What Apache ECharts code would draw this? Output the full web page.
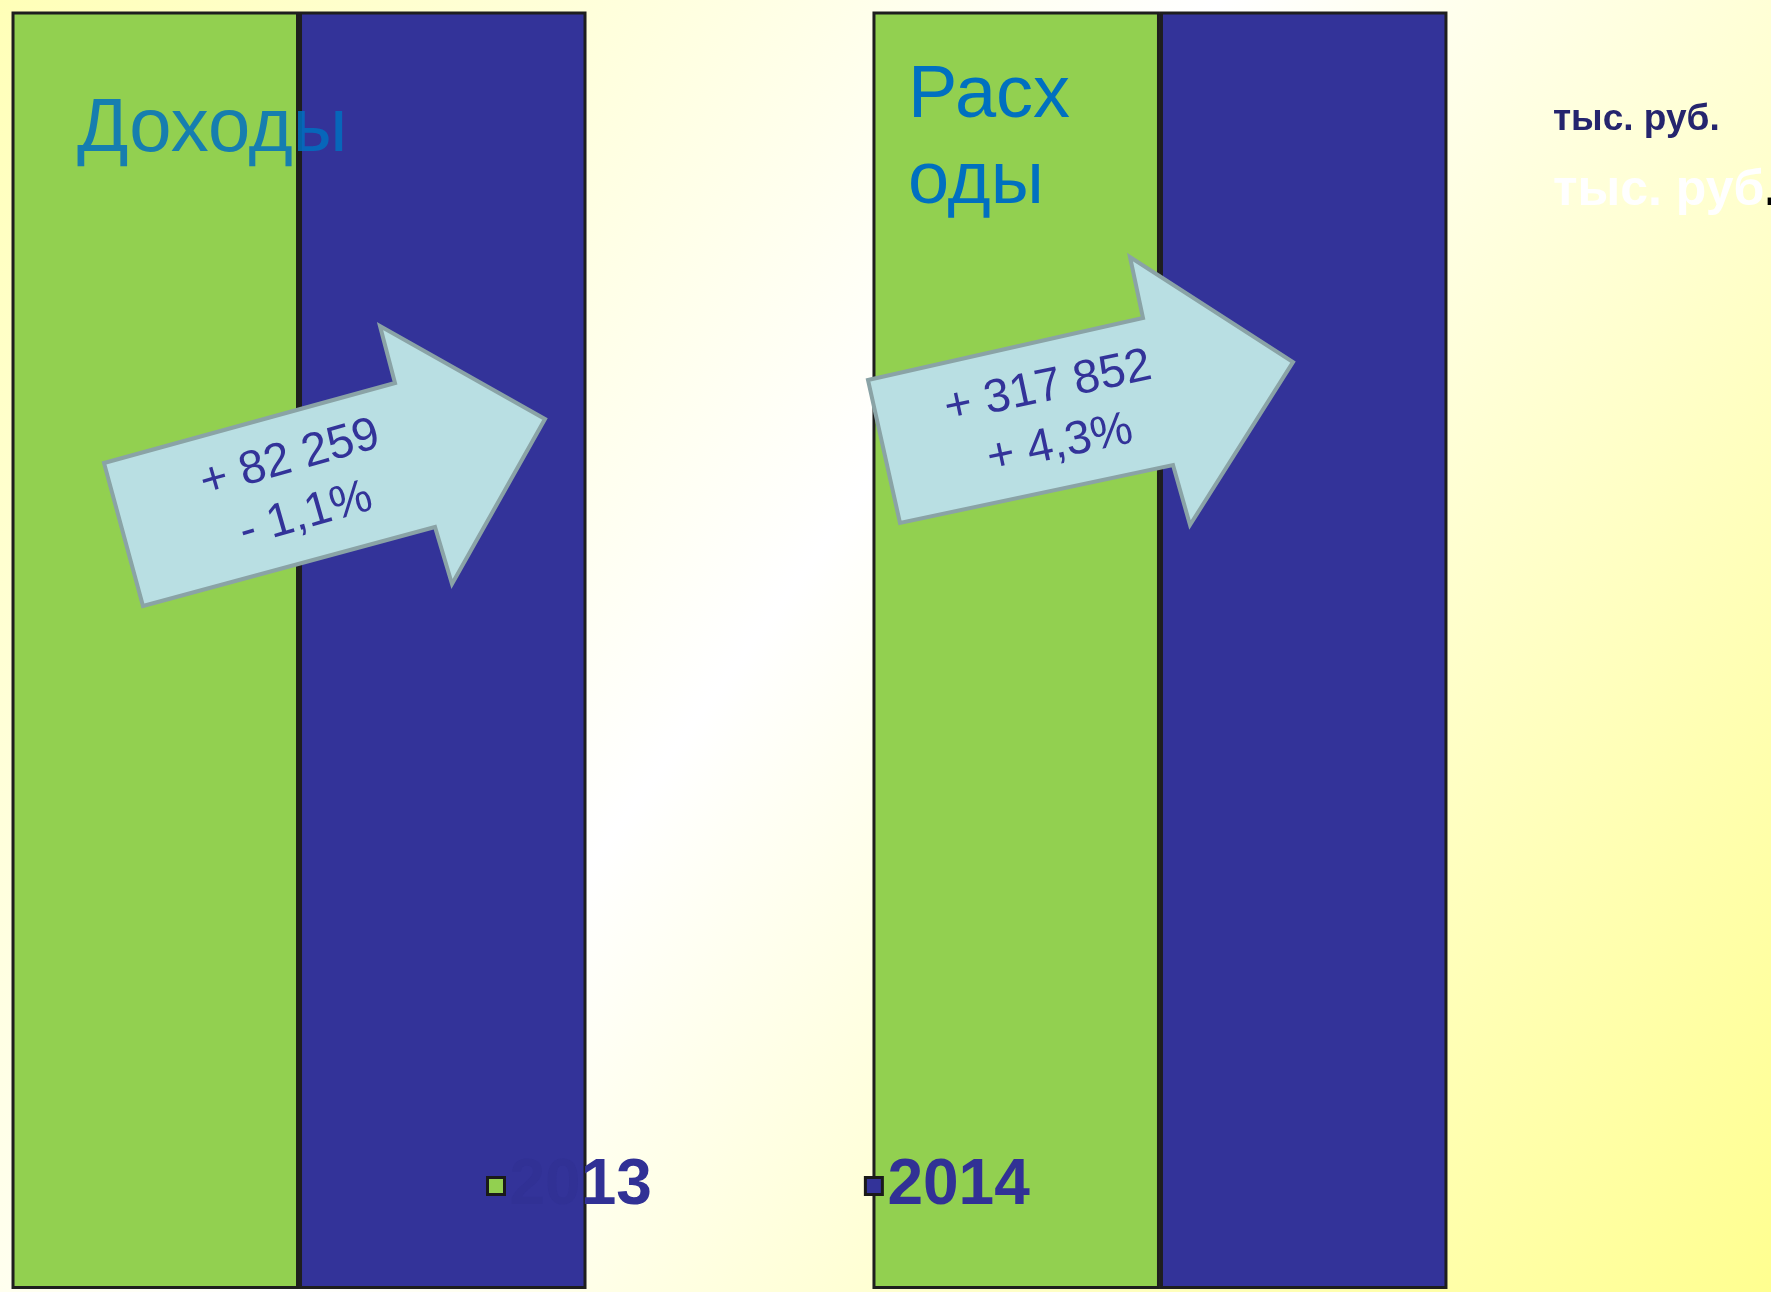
<!DOCTYPE html>
<html>
<head>
<meta charset="utf-8">
<title>Доходы и расходы</title>
<script src="https://cdn.jsdelivr.net/npm/echarts@6/dist/echarts.min.js"></script>
<style>
  html, body { margin: 0; padding: 0; }
  #main { width: 1771px; height: 1292px; }
</style>
</head>
<body>
<div id="main"></div>
<script>
// категории и значения (тыс. руб.) - столбцы выходят за верх области
var categories = ['Доходы', 'Расходы'];
var years = ['2013', '2014'];
var values2013 = [7478000, 7392000];
var values2014 = [7560259, 7709852];
var arrowText = ['+ 82 259\n- 1,1%', '+ 317 852\n+ 4,3%'];

var chart = echarts.init(document.getElementById('main'), null, {
  width: 1771,
  height: 1292,
  devicePixelRatio: 1
});

var font = 'Arial, "Liberation Sans", sans-serif';
var barStyle = function (color) {
  return {
    color: color,
    borderColor: '#1e1e1e',
    borderWidth: 3
  };
};
// категория -> позиция на оси (0, 1, ...)
var toPairs = function (vals) {
  return vals.map(function (v, i) { return [i, v]; });
};

// стрелки-подписи
function arrow(points) {
  return {
    type: 'polygon',
    z: 100,
    shape: { points: points },
    style: { fill: '#b9dfe3', stroke: '#8aa3a6', lineWidth: 4, lineJoin: 'miter' }
  };
}
function arrowLabel(text, x, y, angle) {
  return {
    type: 'text',
    z: 101,
    x: x,
    y: y,
    rotation: angle * Math.PI / 180,
    style: {
      text: text,
      fill: '#333399',
      font: '47px ' + font,
      lineHeight: 58,
      align: 'center',
      verticalAlign: 'middle'
    }
  };
}

var option = {
  backgroundColor: {
    type: 'linear',
    x: 0, y: 0, x2: 1, y2: 1,
    colorStops: [
      { offset: 0, color: '#ffffb8' },
      { offset: 0.45, color: '#ffffff' },
      { offset: 1, color: '#ffff90' }
    ]
  },
  animation: false,
  grid: {
    left: 0,
    right: 0,
    top: 13,
    bottom: 3
  },
  legend: {
    data: years,
    left: 481,
    top: 1149,
    icon: 'rect',
    itemWidth: 17,
    itemHeight: 17,
    itemGap: 212,
    itemStyle: { borderColor: '#1a1a1a', borderWidth: 3 },
    textStyle: {
      fontFamily: font,
      fontSize: 64,
      fontWeight: 'bold',
      color: '#313195'
    }
  },
  xAxis: {
    type: 'value',
    min: -0.3473,
    max: 1.7097,
    show: false,
    splitLine: { show: false },
    axisLabel: {
      formatter: function (v) { return categories[v] || ''; }
    }
  },
  yAxis: {
    type: 'value',
    min: 0,
    max: 7000000,
    show: false,
    splitLine: { show: false }
  },
  series: [{
      name: '2013',
      type: 'bar',
      data: toPairs(values2013),
      barWidth: 287.5,
      barGap: 0,
      clip: true,
      itemStyle: barStyle('#92d050')
    },
    {
      name: '2014',
      type: 'bar',
      data: toPairs(values2014),
      barWidth: 287.5,
      barGap: 0,
      clip: true,
      itemStyle: barStyle('#333399')
    }
  ],
  graphic: [
    {
      type: 'text',
      z: 50,
      x: 77,
      y: 130,
      style: {
        text: 'Доходы',
        fill: '#0070c0',
        opacity: 0.85,
        font: '76px ' + font,
        verticalAlign: 'middle'
      }
    },
    {
      type: 'text',
      z: 50,
      x: 908,
      y: 140,
      style: {
        text: 'Расх\nоды',
        fill: '#0070c0',
        font: '74px ' + font,
        lineHeight: 86,
        verticalAlign: 'middle'
      }
    },
    {
      type: 'text',
      x: 1553,
      y: 120,
      style: {
        text: 'тыс. руб.',
        fill: '#25256e',
        font: 'bold 37px ' + font,
        verticalAlign: 'middle'
      }
    },
    {
      type: 'text',
      x: 1553,
      y: 191,
      style: {
        text: '{w|тыс. руб}{d|.}',
        font: 'bold 50px ' + font,
        verticalAlign: 'middle',
        rich: {
          w: { fill: '#ffffff', font: 'bold 50px ' + font },
          d: { fill: '#000000', font: 'bold 50px ' + font }
        }
      }
    },
    arrow([[104, 463], [395, 383], [380, 326], [545, 419], [452, 584], [435, 527], [143, 606]]),
    arrowLabel(arrowText[0], 298, 487, 16),
    arrow([[868, 380], [1143, 318], [1130, 257], [1293, 362], [1190, 525], [1173, 465], [900, 523]]),
    arrowLabel(arrowText[1], 1054, 416, 12)
  ]
};

chart.setOption(option);
</script>
</body>
</html>
